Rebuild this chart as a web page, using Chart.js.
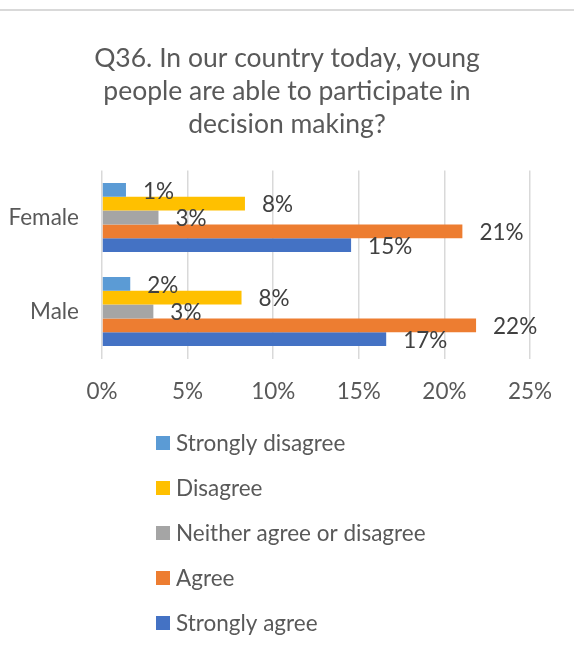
<!DOCTYPE html>
<html>
<head>
<meta charset="utf-8">
<script src="https://cdn.jsdelivr.net/npm/chart.js@4.4.0/dist/chart.umd.min.js"></script>
<style>
  html, body { margin: 0; padding: 0; background: #fff; }
  #frame { width: 574px; margin-top: 9px; border-top: 2px solid #d9d9d9; }
  canvas { display: block; }
</style>
</head>
<body>
<div id="frame"><canvas id="chart" width="574" height="641"></canvas></div>
<script>
// values are percent of respondents
const categories = ["Female", "Male"];
const seriesNames = ["Strongly disagree", "Disagree", "Neither agree or disagree", "Agree", "Strongly agree"];
const stronglyDisagree = [1.4, 1.65];
const disagree = [8.35, 8.15];
const neither = [3.3, 3.0];
const agree = [21.05, 21.85];
const stronglyAgree = [14.55, 16.6];
const xTicks = [0, 5, 10, 15, 20, 25];
const titleLines = ["Q36. In our country today, young", "people are able to participate in", "decision making?"];

const seriesColors = ["#5B9BD5", "#FFC000", "#A5A5A5", "#ED7D31", "#4472C4"];
const FONT = "Lato";
const TEXT_GREY = "#595959";

const seriesValues = [stronglyDisagree, disagree, neither, agree, stronglyAgree];

// percent labels just past the end of each bar
const valueLabels = {
    id: "valueLabels",
    afterDatasetsDraw(chart) {
        const ctx = chart.ctx;
        ctx.save();
        ctx.font = "22.5px " + FONT;
        ctx.fillStyle = "#404040";
        ctx.textAlign = "left";
        ctx.textBaseline = "middle";
        chart.data.datasets.forEach((ds, i) => {
            chart.getDatasetMeta(i).data.forEach((bar, j) => {
                ctx.fillText(Math.round(ds.data[j]) + "%", bar.x + 17, bar.y + 1.5);
            });
        });
        ctx.restore();
    }
};

// Chart.js can't stack a bottom legend one item per row, so draw it here
const stackedLegend = {
    id: "stackedLegend",
    afterDraw(chart) {
        const ctx = chart.ctx;
        const top = chart.chartArea.bottom + 84.5;
        ctx.save();
        ctx.font = "22.5px " + FONT;
        ctx.textAlign = "left";
        ctx.textBaseline = "middle";
        chart.data.datasets.forEach((ds, i) => {
            const y = top + i * 45;
            ctx.fillStyle = ds.backgroundColor;
            ctx.fillRect(156, y - 7, 14, 14);
            ctx.fillStyle = TEXT_GREY;
            ctx.fillText(ds.label, 176, y + 1);
        });
        ctx.restore();
    }
};

// the title is centred on the whole canvas, not on the padded box
const wideTitle = {
    id: "wideTitle",
    beforeDraw(chart) {
        const t = chart.titleBlock;
        t.left = 0;
        t.right = chart.width;
        t.width = chart.width;
    }
};

const datasets = seriesNames.map((name, i) => ({
    label: name,
    data: seriesValues[i],
    backgroundColor: seriesColors[i],
    borderWidth: 0,
    categoryPercentage: 0.734,
    barPercentage: 1
}));

new Chart(document.getElementById("chart"), {
    type: "bar",
    data: { labels: categories, datasets: datasets },
    plugins: [valueLabels, stackedLegend, wideTitle],
    options: {
        indexAxis: "y",
        responsive: false,
        animation: false,
        layout: { padding: { left: 0, right: 44, top: 0, bottom: 249.5 } },
        plugins: {
            legend: { display: false },
            tooltip: { enabled: false },
            title: {
                display: true,
                text: titleLines,
                color: TEXT_GREY,
                font: { family: FONT, size: 26.5, weight: "normal", lineHeight: 33 / 26.5 },
                padding: { top: 31, bottom: 29.5 }
            }
        },
        scales: {
            x: {
                min: xTicks[0],
                max: xTicks[xTicks.length - 1],
                afterBuildTicks: (scale) => { scale.ticks = xTicks.map(v => ({ value: v })); },
                afterFit: (scale) => { scale.height = 44; },
                ticks: {
                    callback: (v) => v + "%",
                    color: TEXT_GREY,
                    font: { family: FONT, size: 22.5 },
                    padding: 20
                },
                grid: { color: "#d9d9d9", lineWidth: 1.5, drawTicks: false },
                border: { display: false }
            },
            y: {
                afterFit: (scale) => { scale.width = 102; },
                ticks: {
                    color: TEXT_GREY,
                    font: { family: FONT, size: 22.5 },
                    padding: 23
                },
                grid: { display: false, drawTicks: false },
                border: { display: false }
            }
        }
    }
});
</script>
</body>
</html>
